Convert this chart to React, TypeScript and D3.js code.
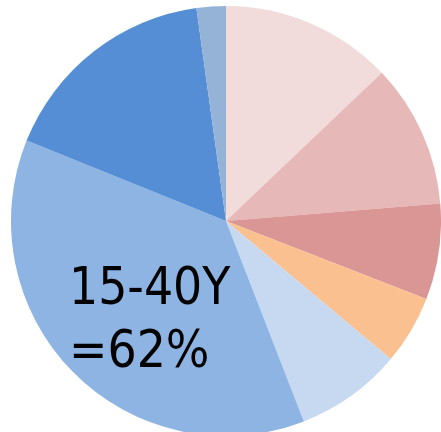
import { useEffect, useRef } from 'react'
import * as d3 from 'd3'

// shares, clockwise from 12 o'clock
const SLICES = ['s1', 's2', 's3', 's4', 's5', 's6', 's7', 's8']
const VALUES = [12.9, 10.8, 7.2, 5.2, 8.0, 37.0, 16.7, 2.2]
const COLORS = ['#F2DCDB', '#E6B9B8', '#D99694', '#FAC090', '#C6D9F1', '#8DB4E2', '#558ED5', '#95B3D7']
const LABEL_LINES = ['15-40Y', '=62%']

const W = 441
const H = 432

export default function App() {
  const svgRef = useRef<SVGSVGElement>(null)

  useEffect(() => {
    document.body.style.margin = '0'
    document.body.style.overflow = 'hidden'
    const svgEl = svgRef.current
    if (!svgEl) return
    const svg = d3.select(svgEl)
    svg.selectAll('*').remove()

    const cx = 226
    const cy = 221
    const r = 215

    const pie = d3.pie<number>().sort(null).value(d => d)
    const arc = d3.arc<d3.PieArcDatum<number>>().innerRadius(0).outerRadius(r)

    const g = svg.append('g').attr('transform', `translate(${cx},${cy})`)
    g.selectAll('path')
      .data(pie(VALUES))
      .join('path')
      .attr('d', arc)
      .attr('fill', (_, i) => COLORS[i])
      .attr('data-slice', (_, i) => SLICES[i])

    LABEL_LINES.forEach((line, i) => {
      svg.append('text')
        .attr('x', 69)
        .attr('y', 304 + i * 63)
        .attr('fill', '#000')
        .style('font-family', '"DejaVu Sans Condensed", "DejaVu Sans", sans-serif')
        .style('font-stretch', 'condensed')
        .style('font-size', '51px')
        .text(line)
    })
  }, [])

  return <svg ref={svgRef} width={W} height={H} style={{ display: 'block' }} />
}
